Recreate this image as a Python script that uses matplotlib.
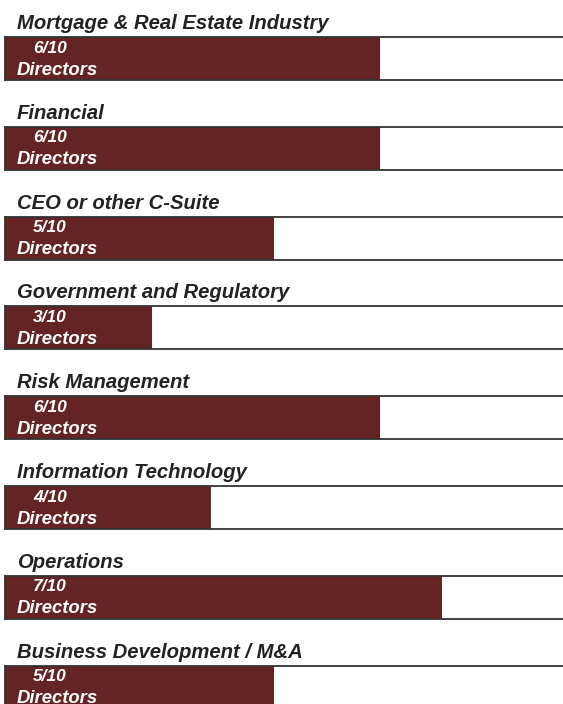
import matplotlib.pyplot as plt

categories = ["Mortgage & Real Estate Industry", "Financial", "CEO or other C-Suite",
              "Government and Regulatory", "Risk Management", "Information Technology",
              "Operations", "Business Development / M&A"]
counts = [6, 6, 5, 3, 6, 4, 7, 5]
# bar lengths as a share of the panel width, as drawn in the original
bar_share = [0.672, 0.672, 0.482, 0.263, 0.672, 0.369, 0.783, 0.482]

W, H = 563, 704
fig = plt.figure(figsize=(W / 100, H / 100), dpi=100)
plt.rcParams['font.family'] = ['Liberation Sans', 'DejaVu Sans']

bar_color = '#632423'
edge = '#333333'
box_left, box_top0, box_h, step = 5, 37, 43, 89.8

for i, (cat, n, share) in enumerate(zip(categories, counts, bar_share)):
    top = box_top0 + i * step
    ax = fig.add_axes([box_left / W, 1 - (top + box_h) / H, (W - box_left) / W, box_h / H])
    ax.barh([0], [share], height=1.0, left=0, color=bar_color, edgecolor='none')
    ax.set_xlim(0, 1)
    ax.set_ylim(-0.5, 0.5)
    ax.set_xticks([])
    ax.set_yticks([])
    ax.spines['right'].set_visible(False)
    for s in ['top', 'left', 'bottom']:
        ax.spines[s].set_color(edge)
        ax.spines[s].set_linewidth(1.3)
    ax.text(12 / (W - box_left), 1 + 8 / box_h, cat, transform=ax.transAxes,
            fontsize=14.6, fontweight='bold', fontstyle='italic', color='#222222',
            va='baseline', ha='left')
    ax.text(28 / (W - box_left), 0.74, f"{n}/10", transform=ax.transAxes,
            fontsize=12.5, fontweight='bold', fontstyle='italic', color='white',
            va='center', ha='left')
    ax.text(12 / (W - box_left), 0.23, "Directors", transform=ax.transAxes,
            fontsize=13.3, fontweight='bold', fontstyle='italic', color='white',
            va='center', ha='left')

fig.savefig('out.png', dpi=100)
